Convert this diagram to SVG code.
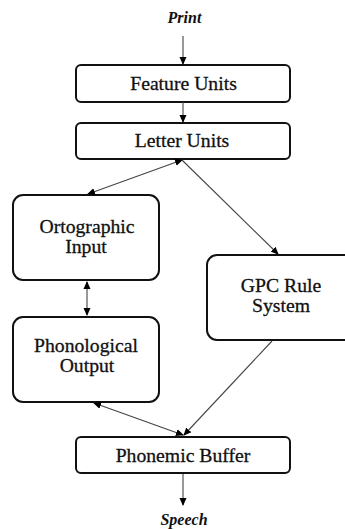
<svg xmlns="http://www.w3.org/2000/svg" width="345" height="529" viewBox="0 0 345 529">
  <style>
    .box { fill: #fff; stroke: #111; stroke-width: 2; }
    .edge { stroke: #444; stroke-width: 1.1; fill: none; }
    .lbl { stroke: #111; stroke-width: 0.3; }
  </style>
  <defs>
    <marker id="ah" markerWidth="8" markerHeight="8" refX="7" refY="4" orient="auto-start-reverse" markerUnits="userSpaceOnUse">
      <path d="M0,0.5 L8,4 L0,7.5 Z" fill="#000"/>
    </marker>
  </defs>
  <rect width="345" height="529" fill="#fff"/>

  <g id="print">
    <text font-family="Liberation Serif" font-size="16" font-weight="bold" font-style="italic" text-anchor="middle" fill="#111" x="184.5" y="23">Print</text>
  </g>
  <g id="feature-units">
    <rect class="box" x="76" y="65" width="214" height="37" rx="5"/>
    <text class="lbl" font-family="Liberation Serif" font-size="19.7" text-anchor="middle" fill="#111" x="183.5" y="90">Feature Units</text>
  </g>
  <g id="letter-units">
    <rect class="box" x="76" y="123" width="214" height="36" rx="5"/>
    <text class="lbl" font-family="Liberation Serif" font-size="19.7" text-anchor="middle" fill="#111" x="182" y="147">Letter Units</text>
  </g>
  <g id="ortographic-input">
    <rect class="box" x="13" y="195" width="146" height="85" rx="10"/>
    <text class="lbl" font-family="Liberation Serif" font-size="19.7" text-anchor="middle" fill="#111" x="87" y="233">Ortographic</text>
    <text class="lbl" font-family="Liberation Serif" font-size="19.7" text-anchor="middle" fill="#111" x="86" y="253">Input</text>
  </g>
  <g id="gpc-rule-system">
    <rect class="box" x="207" y="255" width="150" height="85" rx="10"/>
    <text class="lbl" font-family="Liberation Serif" font-size="19.7" text-anchor="middle" fill="#111" x="281" y="292">GPC Rule</text>
    <text class="lbl" font-family="Liberation Serif" font-size="19.7" text-anchor="middle" fill="#111" x="281" y="312">System</text>
  </g>
  <g id="phonological-output">
    <rect class="box" x="13" y="317" width="146" height="85" rx="10"/>
    <text class="lbl" font-family="Liberation Serif" font-size="19.7" text-anchor="middle" fill="#111" x="86" y="352">Phonological</text>
    <text class="lbl" font-family="Liberation Serif" font-size="19.7" text-anchor="middle" fill="#111" x="87" y="372">Output</text>
  </g>
  <g id="phonemic-buffer">
    <rect class="box" x="76" y="437" width="214" height="36" rx="5"/>
    <text class="lbl" font-family="Liberation Serif" font-size="19.7" text-anchor="middle" fill="#111" x="183" y="462">Phonemic Buffer</text>
  </g>
  <g id="speech">
    <text font-family="Liberation Serif" font-size="16" font-weight="bold" font-style="italic" text-anchor="middle" fill="#111" x="184" y="525">Speech</text>
  </g>

  <g id="connectors">
    <line class="edge" x1="183" y1="36" x2="183" y2="64" marker-end="url(#ah)"/>
    <line class="edge" x1="183" y1="102" x2="183" y2="122" marker-end="url(#ah)"/>
    <line class="edge" x1="182" y1="160" x2="88" y2="194" marker-start="url(#ah)" marker-end="url(#ah)"/>
    <line class="edge" x1="182" y1="160" x2="278" y2="254" marker-end="url(#ah)"/>
    <line class="edge" x1="87" y1="282" x2="87" y2="315" marker-start="url(#ah)" marker-end="url(#ah)"/>
    <line class="edge" x1="94" y1="403" x2="183" y2="435" marker-start="url(#ah)" marker-end="url(#ah)"/>
    <line class="edge" x1="272" y1="341" x2="184" y2="435" marker-end="url(#ah)"/>
    <line class="edge" x1="183" y1="474" x2="183" y2="505" marker-end="url(#ah)"/>
  </g>
</svg>
